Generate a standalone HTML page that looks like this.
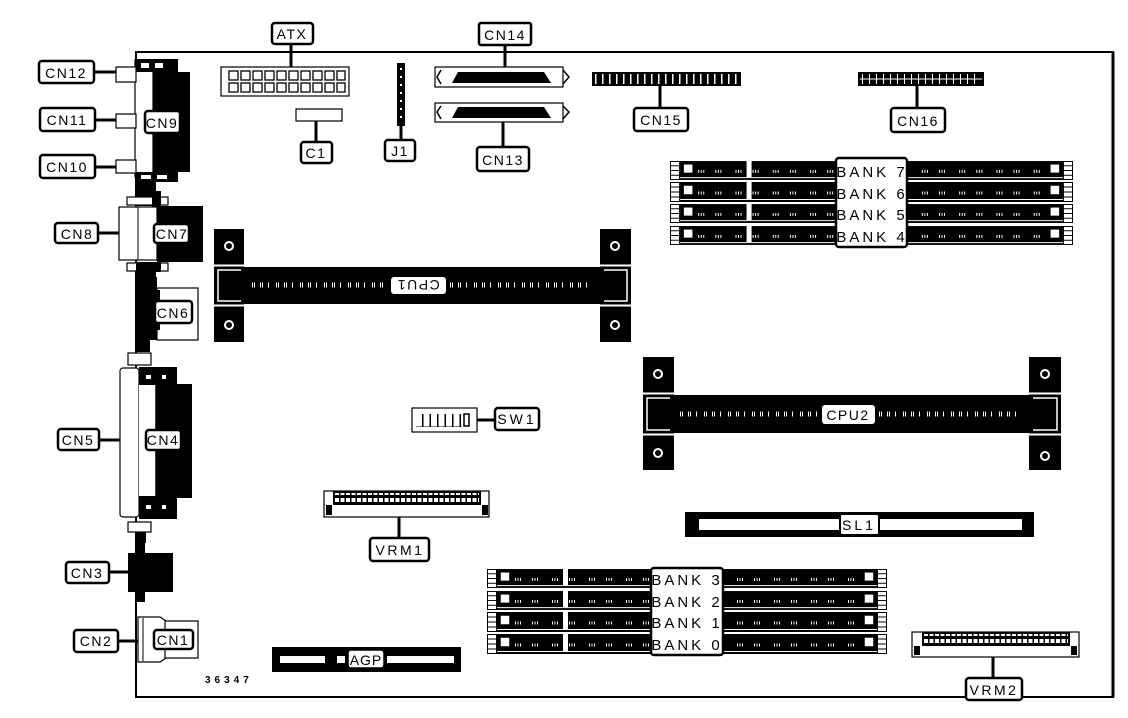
<!DOCTYPE html>
<html><head><meta charset="utf-8"><style>
html,body{margin:0;padding:0;background:#fff;}
svg{display:block;}
text{font-family:"Liberation Sans",sans-serif;fill:#000;}
.lb{fill:#fff;stroke:#000;stroke-width:2.5;}
.t{font-size:14px;letter-spacing:1.5px;text-anchor:middle;}
.ld{stroke:#000;stroke-width:3;}
.w{fill:#fff;stroke:#000;stroke-width:1.2;}
</style></head><body>
<svg width="1128" height="718" viewBox="0 0 1128 718" xmlns="http://www.w3.org/2000/svg">
<defs>
<symbol id="dimm" viewBox="0 0 400 20" preserveAspectRatio="none">
  <rect x="0.5" y="0.5" width="399" height="19" fill="#fff" stroke="#000" stroke-width="1"/>
  <rect x="0.5" y="0.5" width="9" height="19" fill="#fff" stroke="#000" stroke-width="1"/>
  <line x1="0" y1="5" x2="10" y2="5" stroke="#000"/><line x1="0" y1="10" x2="10" y2="10" stroke="#000"/><line x1="0" y1="15" x2="10" y2="15" stroke="#000"/>
  <rect x="390.5" y="0.5" width="9" height="19" fill="#fff" stroke="#000" stroke-width="1"/>
  <line x1="390" y1="5" x2="400" y2="5" stroke="#000"/><line x1="390" y1="10" x2="400" y2="10" stroke="#000"/><line x1="390" y1="15" x2="400" y2="15" stroke="#000"/>
  <rect x="10" y="1" width="380" height="16" fill="#000"/>
  <rect x="13" y="3" width="10" height="10" fill="#fff" stroke="#000" stroke-width="1.5"/>
  <rect x="377" y="3" width="10" height="10" fill="#fff" stroke="#000" stroke-width="1.5"/>
  <rect x="76" y="0" width="5" height="17" fill="#fff"/>
  <line x1="28" y1="11" x2="370" y2="11" stroke="#fff" stroke-width="3" stroke-dasharray="1 1.5 1 1.5 1 11 1 1.5 1 1.5 1 14"/>
  <line x1="10" y1="18.5" x2="390" y2="18.5" stroke="#000" stroke-width="1"/>
</symbol>
</defs>

<path d="M136 697 V52 H1113 V697 Z" fill="none" stroke="#000" stroke-width="2"/>
<line x1="1113" y1="52" x2="1113" y2="697" stroke="#000" stroke-width="3"/>

<!-- CN9 group -->
<rect x="135" y="60" width="18" height="117" class="w"/>
<rect x="153" y="72" width="37" height="100" fill="#000"/>
<rect x="135" y="59" width="43" height="13" fill="#000"/>
<rect x="141" y="63" width="8" height="5" fill="#fff"/><rect x="155" y="63" width="8" height="5" fill="#fff"/>
<rect x="135" y="172" width="43" height="10" fill="#000"/>
<rect x="141" y="175" width="10" height="4" fill="#fff"/><rect x="157" y="175" width="10" height="4" fill="#fff"/>
<rect x="116" y="67" width="20" height="15" class="w"/>
<rect x="116" y="114" width="20" height="14" class="w"/>
<rect x="116" y="160" width="20" height="13" class="w"/>
<line x1="94" y1="72" x2="116" y2="72" class="ld"/>
<line x1="95" y1="120" x2="116" y2="120" class="ld"/>
<line x1="95" y1="167" x2="116" y2="167" class="ld"/>
<rect x="39" y="61" width="55" height="22" rx="3" class="lb"/><text x="66" y="78" class="t">CN12</text>
<rect x="40" y="108" width="55" height="23" rx="3" class="lb"/><text x="67" y="125" class="t">CN11</text>
<rect x="40" y="155" width="55" height="23" rx="3" class="lb"/><text x="67" y="172" class="t">CN10</text>
<rect x="145" y="111" width="35" height="22" rx="3" class="lb"/><text x="162" y="128" class="t">CN9</text>

<!-- CN7/CN8 -->
<rect x="136" y="182" width="20" height="24" fill="#000"/>
<rect x="127" y="197" width="41" height="8" class="w"/><rect x="152" y="191" width="9" height="16" fill="#000"/>
<rect x="119" y="207" width="38" height="53" class="w"/>
<line x1="138" y1="207" x2="138" y2="260" stroke="#000"/>
<rect x="157" y="206" width="46" height="56" fill="#000"/>
<rect x="127" y="263" width="41" height="8" class="w"/><rect x="152" y="262" width="9" height="10" fill="#000"/>
<rect x="136" y="262" width="20" height="15" fill="#000"/>
<line x1="98" y1="233" x2="119" y2="233" class="ld"/>
<rect x="55" y="223" width="43" height="20" rx="3" class="lb"/><text x="77" y="239" class="t">CN8</text>
<rect x="154" y="224" width="35" height="19" rx="3" class="lb"/><text x="172" y="239" class="t">CN7</text>

<!-- CN6 -->
<rect x="157" y="288" width="41" height="52" class="w"/>
<rect x="136" y="277" width="21" height="63" fill="#000"/>
<rect x="136" y="290" width="24" height="40" fill="#000"/>
<rect x="155" y="301" width="37" height="22" rx="3" class="lb"/><text x="173" y="318" class="t">CN6</text>

<!-- CN4/CN5 -->
<rect x="136" y="340" width="14" height="12" fill="#000"/>
<rect x="128" y="353" width="23" height="12" class="w"/>
<rect x="120" y="368" width="19" height="149" rx="3" class="w"/>
<rect x="139" y="367" width="38" height="152" fill="#000"/>
<rect x="177" y="384" width="15" height="114" fill="#000"/>
<rect x="139" y="385" width="17" height="111" fill="#fff"/>
<line x1="156" y1="385" x2="156" y2="496" stroke="#000" stroke-width="1.5"/>
<rect x="146" y="375" width="5" height="4" fill="#fff"/><rect x="162" y="375" width="4" height="4" fill="#fff"/>
<rect x="146" y="505" width="5" height="4" fill="#fff"/><rect x="162" y="505" width="4" height="4" fill="#fff"/>
<rect x="128" y="522" width="23" height="10" class="w"/>
<rect x="136" y="532" width="10" height="11" fill="#000"/>
<line x1="99" y1="440" x2="120" y2="440" class="ld"/>
<rect x="58" y="429" width="41" height="21" rx="3" class="lb"/><text x="78" y="445" class="t">CN5</text>
<rect x="146" y="430" width="35" height="20" rx="3" class="lb"/><text x="163" y="445" class="t">CN4</text>

<!-- CN3 -->
<rect x="136" y="543" width="9" height="59" fill="#000"/>
<rect x="128" y="553" width="45" height="39" fill="#000"/>
<line x1="109" y1="572" x2="128" y2="572" class="ld"/>
<rect x="66" y="562" width="43" height="21" rx="3" class="lb"/><text x="87" y="578" class="t">CN3</text>

<!-- CN1/CN2 -->
<path d="M138 617 H160 L166 621 V658 L160 662 H138 Z" class="w"/>
<line x1="143" y1="618" x2="143" y2="661" stroke="#000"/>
<rect x="165" y="621" width="33" height="37" class="w"/>
<line x1="118" y1="641" x2="138" y2="641" class="ld"/>
<rect x="74" y="630" width="44" height="22" rx="3" class="lb"/><text x="96" y="646" class="t">CN2</text>
<rect x="154" y="630" width="39" height="19" rx="3" class="lb"/><text x="173" y="645" class="t">CN1</text>

<!-- ATX -->
<rect x="221" y="67" width="128" height="29" class="w"/>
<g fill="#fff" stroke="#000" stroke-width="1.3">
<rect x="229" y="71" width="9" height="9"/><rect x="241" y="71" width="9" height="9"/><rect x="253" y="71" width="9" height="9"/><rect x="265" y="71" width="9" height="9"/><rect x="277" y="71" width="9" height="9"/><rect x="289" y="71" width="9" height="9"/><rect x="301" y="71" width="9" height="9"/><rect x="313" y="71" width="9" height="9"/><rect x="325" y="71" width="9" height="9"/><rect x="337" y="71" width="8" height="9"/>
<rect x="229" y="83" width="9" height="9"/><rect x="241" y="83" width="9" height="9"/><rect x="253" y="83" width="9" height="9"/><rect x="265" y="83" width="9" height="9"/><rect x="277" y="83" width="9" height="9"/><rect x="289" y="83" width="9" height="9"/><rect x="301" y="83" width="9" height="9"/><rect x="313" y="83" width="9" height="9"/><rect x="325" y="83" width="9" height="9"/><rect x="337" y="83" width="8" height="9"/>
</g>
<line x1="291" y1="44" x2="291" y2="67" class="ld"/>
<rect x="272" y="23" width="41" height="21" rx="3" class="lb"/><text x="292" y="39" class="t">ATX</text>

<!-- C1 -->
<rect x="296" y="109" width="46" height="12" class="w"/>
<line x1="316" y1="121" x2="316" y2="142" class="ld"/>
<rect x="301" y="142" width="31" height="21" rx="3" class="lb"/><text x="316" y="158" class="t">C1</text>

<!-- J1 -->
<rect x="397" y="63" width="8" height="63" fill="#000"/>
<line x1="401" y1="68" x2="401" y2="122" stroke="#fff" stroke-width="2" stroke-dasharray="2 6"/>
<line x1="401" y1="126" x2="401" y2="140" class="ld"/>
<rect x="385" y="140" width="30" height="21" rx="3" class="lb"/><text x="400" y="156" class="t">J1</text>

<!-- CN14 / CN13 -->
<rect x="435" y="67" width="128" height="20" class="w"/>
<path d="M458 72 H544 L551 83 H452 Z" fill="#000"/>
<path d="M441 70 L437 77 L441 84" fill="none" stroke="#000" stroke-width="1.5"/>
<path d="M563 70 L569 77 L563 84" fill="none" stroke="#000" stroke-width="1.5"/>
<rect x="435" y="103" width="128" height="19" class="w"/>
<path d="M458 107 H544 L551 118 H452 Z" fill="#000"/>
<path d="M441 106 L437 112 L441 119" fill="none" stroke="#000" stroke-width="1.5"/>
<path d="M563 106 L569 112 L563 119" fill="none" stroke="#000" stroke-width="1.5"/>
<line x1="505" y1="45" x2="505" y2="67" class="ld"/>
<line x1="503" y1="122" x2="503" y2="147" class="ld"/>
<rect x="479" y="23" width="52" height="22" rx="2" class="lb"/><text x="505" y="40" class="t">CN14</text>
<rect x="477" y="147" width="52" height="24" rx="3" class="lb"/><text x="503" y="165" class="t">CN13</text>

<!-- CN15 -->
<rect x="592" y="72" width="149" height="14" fill="#000"/>
<line x1="595" y1="79" x2="739" y2="79" stroke="#fff" stroke-width="10" stroke-dasharray="1.5 5.5"/>
<line x1="660" y1="86" x2="660" y2="108" class="ld"/>
<rect x="634" y="108" width="54" height="23" rx="3" class="lb"/><text x="661" y="125" class="t">CN15</text>

<!-- CN16 -->
<rect x="858" y="72" width="126" height="14" fill="#000"/>
<line x1="860" y1="79" x2="982" y2="79" stroke="#fff" stroke-width="1"/>
<line x1="862" y1="79" x2="980" y2="79" stroke="#fff" stroke-width="10" stroke-dasharray="1 6"/>
<line x1="917" y1="86" x2="917" y2="108" class="ld"/>
<rect x="891" y="108" width="54" height="24" rx="3" class="lb"/><text x="918" y="126" class="t">CN16</text>

<!-- Banks 7-4 -->
<use href="#dimm" x="670" y="161" width="403" height="19"/>
<use href="#dimm" x="670" y="182" width="403" height="20"/>
<use href="#dimm" x="670" y="204" width="403" height="19"/>
<use href="#dimm" x="670" y="226" width="403" height="19"/>
<rect x="836" y="158" width="71" height="89" rx="3" class="lb"/>
<text x="872" y="177" class="t" style="font-size:15px;letter-spacing:3px">BANK 7</text>
<text x="872" y="199" class="t" style="font-size:15px;letter-spacing:3px">BANK 6</text>
<text x="872" y="220" class="t" style="font-size:15px;letter-spacing:3px">BANK 5</text>
<text x="872" y="242" class="t" style="font-size:15px;letter-spacing:3px">BANK 4</text>

<!-- CPU1 -->
<rect x="214" y="229" width="30" height="113" fill="#000"/>
<rect x="600" y="229" width="31" height="113" fill="#000"/>
<rect x="214" y="267" width="417" height="37" fill="#000"/>
<line x1="214" y1="265.5" x2="244" y2="265.5" stroke="#fff" stroke-width="2"/>
<line x1="214" y1="305.5" x2="244" y2="305.5" stroke="#fff" stroke-width="2"/>
<path d="M241 270 H218 V301 H241" fill="none" stroke="#fff" stroke-width="1.5"/>
<path d="M604 270 H627 V301 H604" fill="none" stroke="#fff" stroke-width="1.5"/>
<line x1="600" y1="265.5" x2="631" y2="265.5" stroke="#fff" stroke-width="2"/>
<line x1="600" y1="305.5" x2="631" y2="305.5" stroke="#fff" stroke-width="2"/>
<circle cx="229" cy="246" r="4" fill="none" stroke="#fff" stroke-width="2"/>
<circle cx="229" cy="325" r="4" fill="none" stroke="#fff" stroke-width="2"/>
<circle cx="615" cy="246" r="4" fill="none" stroke="#fff" stroke-width="2"/>
<circle cx="615" cy="325" r="4" fill="none" stroke="#fff" stroke-width="2"/>
<line x1="252" y1="285" x2="388" y2="285" stroke="#fff" stroke-width="5" stroke-dasharray="1 1 1 5 1 1 1 5 1 7"/>
<line x1="450" y1="285" x2="590" y2="285" stroke="#fff" stroke-width="5" stroke-dasharray="1 1 1 5 1 1 1 5 1 7"/>
<rect x="391" y="277" width="55" height="17" rx="3" fill="#fff"/>
<text x="418" y="291" class="t" transform="rotate(180 418 285.5)" style="font-size:14px">CPU1</text>

<!-- CPU2 -->
<rect x="643" y="357" width="31" height="113" fill="#000"/>
<rect x="1029" y="357" width="32" height="113" fill="#000"/>
<rect x="643" y="395" width="418" height="38" fill="#000"/>
<line x1="643" y1="393.5" x2="674" y2="393.5" stroke="#fff" stroke-width="2"/>
<line x1="643" y1="434.5" x2="674" y2="434.5" stroke="#fff" stroke-width="2"/>
<line x1="1029" y1="393.5" x2="1061" y2="393.5" stroke="#fff" stroke-width="2"/>
<line x1="1029" y1="434.5" x2="1061" y2="434.5" stroke="#fff" stroke-width="2"/>
<path d="M670 398 H647 V430 H670" fill="none" stroke="#fff" stroke-width="1.5"/>
<path d="M1033 398 H1057 V430 H1033" fill="none" stroke="#fff" stroke-width="1.5"/>
<circle cx="658" cy="374" r="4" fill="none" stroke="#fff" stroke-width="2"/>
<circle cx="658" cy="453" r="4" fill="none" stroke="#fff" stroke-width="2"/>
<circle cx="1045" cy="374" r="4" fill="none" stroke="#fff" stroke-width="2"/>
<circle cx="1045" cy="456" r="4" fill="none" stroke="#fff" stroke-width="2"/>
<line x1="680" y1="414" x2="818" y2="414" stroke="#fff" stroke-width="5" stroke-dasharray="1 1 1 5 1 1 1 5 1 7"/>
<line x1="879" y1="414" x2="1022" y2="414" stroke="#fff" stroke-width="5" stroke-dasharray="1 1 1 5 1 1 1 5 1 7"/>
<rect x="822" y="405" width="53" height="19" rx="3" fill="#fff"/>
<text x="848" y="420" class="t" style="font-size:14px">CPU2</text>

<!-- SW1 -->
<rect x="412" y="408" width="65" height="24" class="w"/>
<rect x="416" y="414" width="46" height="13" fill="#000"/>
<line x1="416" y1="420" x2="462" y2="420" stroke="#fff" stroke-width="13" stroke-dasharray="6 1.5"/>
<rect x="464" y="414" width="5" height="12" fill="#fff" stroke="#000" stroke-width="1.5"/>
<line x1="477" y1="420" x2="495" y2="420" class="ld"/>
<rect x="495" y="408" width="44" height="22" rx="3" class="lb"/><text x="517" y="424" class="t" style="letter-spacing:3px">SW1</text>

<!-- VRM1 -->
<rect x="324" y="491" width="165" height="26" class="w"/>
<rect x="333" y="491" width="148" height="14" fill="#000"/>
<line x1="335" y1="494" x2="479" y2="494" stroke="#fff" stroke-width="2" stroke-dasharray="4 1.5"/>
<line x1="335" y1="500" x2="479" y2="500" stroke="#fff" stroke-width="4" stroke-dasharray="4 1.5"/>
<rect x="326" y="505" width="6" height="10" fill="#000"/><rect x="482" y="505" width="6" height="10" fill="#000"/>
<line x1="399" y1="517" x2="399" y2="538" class="ld"/>
<rect x="370" y="538" width="59" height="23" rx="3" class="lb"/><text x="400" y="555" class="t" style="letter-spacing:2.5px">VRM1</text>

<!-- SL1 -->
<rect x="685" y="512" width="349" height="25" fill="#000"/>
<rect x="699" y="519" width="323" height="11" fill="#fff"/>
<rect x="840" y="514" width="39" height="21" rx="2" fill="#fff" stroke="#000" stroke-width="2"/>
<text x="859" y="530" class="t" style="letter-spacing:3px">SL1</text>

<!-- Banks 3-0 -->
<use href="#dimm" x="487" y="569" width="400" height="19"/>
<use href="#dimm" x="487" y="591" width="400" height="19"/>
<use href="#dimm" x="487" y="612" width="400" height="20"/>
<use href="#dimm" x="487" y="634" width="400" height="20"/>
<rect x="651" y="568" width="72" height="87" rx="3" class="lb"/>
<text x="687" y="585" class="t" style="font-size:15px;letter-spacing:3px">BANK 3</text>
<text x="687" y="607" class="t" style="font-size:15px;letter-spacing:3px">BANK 2</text>
<text x="687" y="628" class="t" style="font-size:15px;letter-spacing:3px">BANK 1</text>
<text x="687" y="650" class="t" style="font-size:15px;letter-spacing:3px">BANK 0</text>

<!-- VRM2 -->
<rect x="912" y="632" width="167" height="25" class="w"/>
<rect x="922" y="632" width="148" height="14" fill="#000"/>
<line x1="924" y1="635" x2="1068" y2="635" stroke="#fff" stroke-width="2" stroke-dasharray="4 1.5"/>
<line x1="924" y1="641" x2="1068" y2="641" stroke="#fff" stroke-width="4" stroke-dasharray="4 1.5"/>
<rect x="914" y="646" width="6" height="9" fill="#000"/><rect x="1071" y="646" width="6" height="9" fill="#000"/>
<line x1="993" y1="657" x2="993" y2="678" class="ld"/>
<rect x="966" y="678" width="56" height="22" rx="3" class="lb"/><text x="994" y="695" class="t" style="letter-spacing:2.5px">VRM2</text>

<!-- AGP -->
<rect x="272" y="647" width="189" height="25" fill="#000"/>
<rect x="280" y="656" width="45" height="7" fill="#fff"/>
<rect x="337" y="656" width="8" height="7" fill="#fff"/>
<rect x="387" y="656" width="67" height="7" fill="#fff"/>
<rect x="348" y="650" width="36" height="18" rx="3" fill="#fff" stroke="#000" stroke-width="1.5"/>
<text x="366" y="665" class="t" style="font-size:14px;letter-spacing:1px">AGP</text>

<text x="205" y="683" style="font-size:10px;letter-spacing:4px;font-weight:bold">36347</text>
</svg>
</body></html>
